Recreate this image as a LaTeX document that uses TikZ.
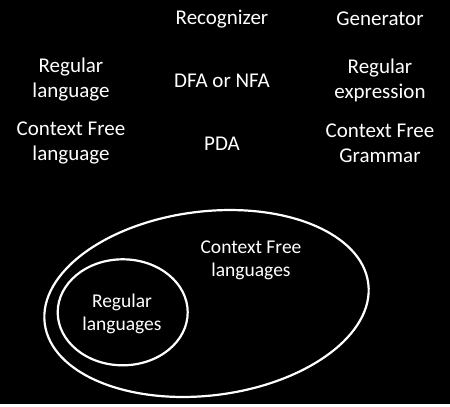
\documentclass[tikz,border=0pt]{standalone}
\usepackage{fontspec}
\setmainfont{Carlito}
\begin{document}
\begin{tikzpicture}[x=1pt,y=-1pt,lbl/.style={text=white,align=center,inner sep=0pt,font=\fontsize{21}{25}\selectfont},lblS/.style={lbl,font=\fontsize{19.5}{23}\selectfont},set/.style={draw=white,line width=2.2pt}]
\def\xa{71};
\def\xb{222};
\def\xc{380};

\fill[black] (0,0) rectangle (450,404);

\node[lbl] (rec) at (\xb,19) {Recognizer};
\node[lbl] (gen) at (\xc,19) {Generator};

\node[lbl] (reglang) at (\xa,80) {Regular\\language};
\node[lbl] (dfa) at (\xb,81) {DFA or NFA};
\node[lbl] (regexp) at (\xc,80) {Regular\\expression};

\node[lbl] (cfl) at (\xa,143) {Context Free\\language};
\node[lbl] (pda) at (\xb,144) {PDA};
\node[lbl] (cfg) at (\xc,143) {Context Free\\Grammar};

% sets
\draw[set,rotate around={7:(206.5,303.5)}] (206.5,303.5) ellipse [x radius=163,y radius=92];
\draw[set] (122.7,312.3) ellipse [x radius=65,y radius=53];
\node[lblS] (cfset) at (251,260) {Context Free\\languages};
\node[lblS] (regset) at (122,314) {Regular\\languages};
\end{tikzpicture}
\end{document}
